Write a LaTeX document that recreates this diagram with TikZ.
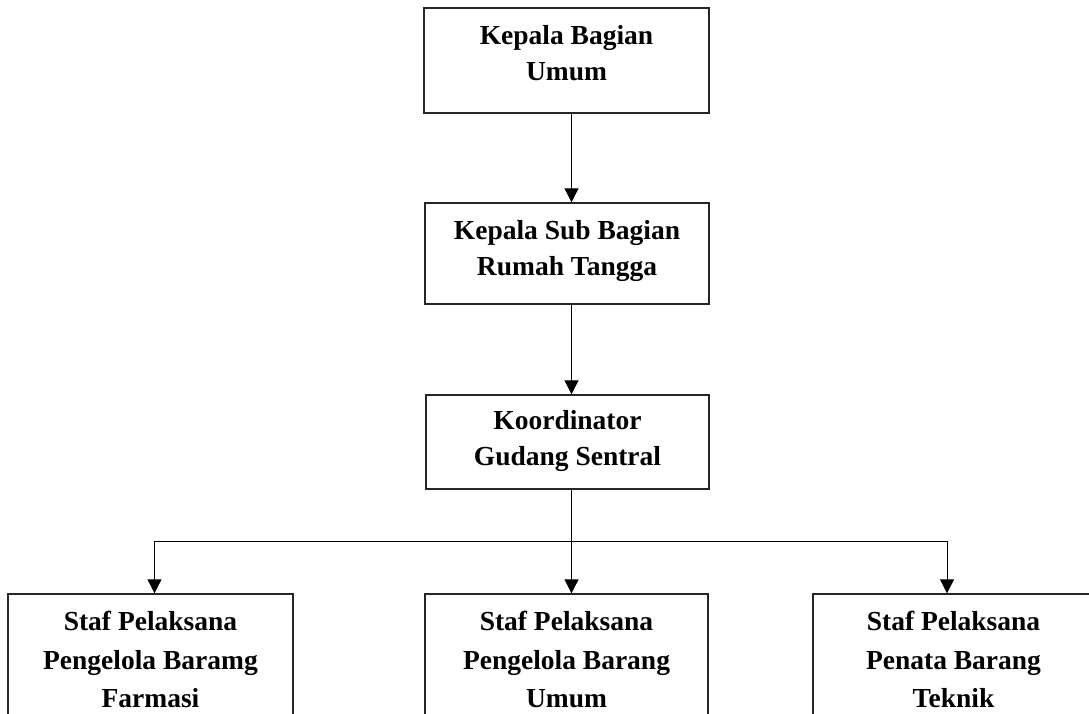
\documentclass[tikz,border=0pt]{standalone}
\usepackage{fontspec}
\setmainfont{Liberation Serif}
\usetikzlibrary{arrows.meta}
\begin{document}
\begin{tikzpicture}[x=1pt,y=-1pt,
  box/.style={draw=black!85, line width=1.4pt, rectangle, inner sep=0pt},
  lbl/.style={anchor=north, inner sep=0pt, align=center,
    font=\bfseries\fontsize{27.5}{36}\selectfont},
  lblb/.style={lbl, font=\bfseries\fontsize{27.5}{38.5}\selectfont},
  link/.style={line width=1pt, draw=black},
  arr/.style={link, -{Triangle[length=14pt,width=14pt]}}]
\useasboundingbox (0,0) rectangle (1089,713);
\begin{scope}
\clip (0,0) rectangle (1089,713);
% boxes
\node[box, minimum width=285pt, minimum height=105pt] (b1) at (566.5,60.5) {};
\node[box, minimum width=284pt, minimum height=101pt] (b2) at (567,253.5) {};
\node[box, minimum width=283pt, minimum height=94pt] (b3) at (567.5,442) {};
\node[box, minimum width=285pt, minimum height=150pt] (s1) at (150.5,669) {};
\node[box, minimum width=283pt, minimum height=150pt] (s2) at (566.5,669) {};
\node[box, minimum width=281pt, minimum height=150pt] (s3) at (953.5,669) {};
% labels
\node[lbl] (t1) at (566.5,25) {Kepala Bagian\\Umum};
\node[lbl] (t2) at (567,220) {Kepala Sub Bagian\\Rumah Tangga};
\node[lbl] (t3) at (567.5,410) {Koordinator\\Gudang Sentral};
\node[lblb] (u1) at (150.5,611) {Staf Pelaksana\\Pengelola Baramg\\Farmasi};
\node[lblb] (u2) at (566.5,611) {Staf Pelaksana\\Pengelola Barang\\Umum};
\node[lblb] (u3) at (953.5,611) {Staf Pelaksana\\Penata Barang\\Teknik};
% connectors
\coordinate (spine) at (571.5,0);
\coordinate (dl) at (154.5,541);
\coordinate (dr) at (947,541);
\draw[arr] (b1.south -| spine) -- (b2.north -| spine);
\draw[arr] (b2.south -| spine) -- (b3.north -| spine);
\draw[arr] (b3.south -| spine) -- (s2.north -| spine);
\draw[link] (dl) -- (dr);
\draw[arr] (dl) -- (dl |- s1.north);
\draw[arr] (dr) -- (dr |- s3.north);
\end{scope}
\end{tikzpicture}
\end{document}
